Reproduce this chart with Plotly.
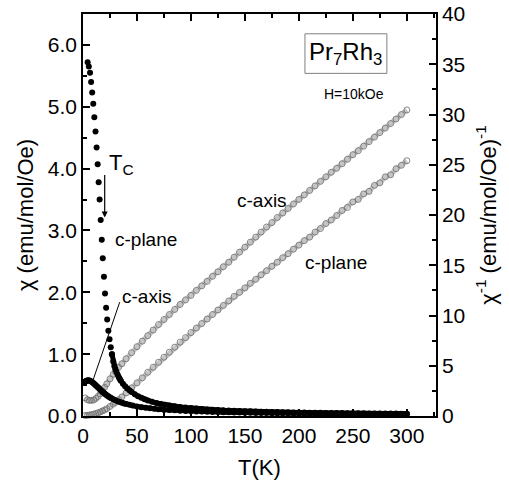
import plotly.graph_objects as go

FONT = "Liberation Sans, Arial, sans-serif"

# chi(T), field in the c-plane (filled circles, left axis)
t_chi_plane = [4.3, 5.4, 6.5, 7.5, 8.5, 9.5, 10.5, 11.6, 12.6, 13.6, 14.5, 15.4, 16.4, 17.4,
               18.3, 19.4, 20.4, 21.4, 22.4, 23.5, 24.6, 25.7, 26.8,
               28, 29, 30, 31, 32, 33, 34, 35, 37, 39, 41, 43, 45, 48, 51, 54, 57, 60,
               64, 68, 72, 76, 80, 85, 90, 95] + list(range(100, 301, 5))
chi_plane = [5.72, 5.65, 5.55, 5.40, 5.23, 5.05, 4.83, 4.60, 4.34, 4.07, 3.78, 3.50, 3.17, 2.85,
             2.55, 2.25, 1.98, 1.75, 1.56, 1.38, 1.24, 1.11, 1.00,
             0.88, 0.81, 0.76, 0.71, 0.67, 0.63, 0.60, 0.57, 0.52, 0.48, 0.445, 0.415, 0.39,
             0.35, 0.32, 0.295, 0.27, 0.25, 0.23, 0.21, 0.195, 0.18, 0.17, 0.158, 0.147, 0.137,
             0.128, 0.12, 0.113, 0.107, 0.101, 0.096, 0.092, 0.088, 0.084, 0.081,
             0.078, 0.075, 0.072, 0.07, 0.068, 0.066, 0.064, 0.062, 0.06, 0.058,
             0.057, 0.055, 0.054, 0.052, 0.051, 0.05, 0.049, 0.048, 0.047, 0.046,
             0.045, 0.044, 0.043, 0.042, 0.041, 0.041, 0.040, 0.039, 0.039, 0.038, 0.038]
N_SPARSE = 23  # the first points below ~27 K are resolved as separate dots

# chi(T), field along the c-axis (filled circles, left axis)
t_chi_axis = [1.8, 2.5, 3, 3.5, 4, 5, 6, 7, 8, 9, 10, 11, 12, 13, 14, 15, 16, 17, 18, 19, 20,
              21, 22, 23, 24, 25, 26, 28, 30, 32, 34, 36, 38, 40, 43, 46, 50, 54, 58, 62, 66,
              70, 75, 80, 85, 90, 95] + list(range(100, 301, 5))
chi_axis = [0.55, 0.56, 0.565, 0.57, 0.575, 0.578, 0.575, 0.565, 0.553, 0.54, 0.525, 0.51,
            0.495, 0.478, 0.46, 0.443, 0.425, 0.408, 0.392, 0.377, 0.362, 0.348, 0.335, 0.323,
            0.311, 0.3, 0.29, 0.272, 0.255, 0.24, 0.227, 0.215, 0.204, 0.194, 0.18, 0.168,
            0.155, 0.143, 0.133, 0.124, 0.117, 0.11, 0.103, 0.097, 0.091, 0.086, 0.082,
            0.078, 0.074, 0.071, 0.068, 0.065, 0.063, 0.061, 0.059, 0.057, 0.055,
            0.053, 0.052, 0.05, 0.049, 0.048, 0.046, 0.045, 0.044, 0.043, 0.042,
            0.041, 0.041, 0.04, 0.039, 0.038, 0.038, 0.037, 0.036, 0.036, 0.035,
            0.035, 0.034, 0.034, 0.034, 0.033, 0.033, 0.032, 0.032, 0.032, 0.031, 0.031]

# inverse susceptibility (open circles, right axis)
t_inv = [2, 4, 6, 8, 10, 12, 14, 16, 18, 20, 22, 25, 28, 30, 33, 36, 40] + list(range(45, 301, 5))
inv_axis = [1.8, 1.62, 1.55, 1.55, 1.6, 1.75, 1.95, 2.2, 2.5, 2.85, 3.2, 3.7, 4.15, 4.45, 4.85,
            5.2, 5.7,
            6.3, 6.9, 7.45, 8.0, 8.55, 9.1, 9.6, 10.1, 10.6, 11.1,
            11.55, 12.0, 12.5, 12.95, 13.4, 13.9, 14.35, 14.85, 15.3, 15.8,
            16.3, 16.8, 17.3, 17.8, 18.3, 18.8, 19.25, 19.75, 20.2, 20.65,
            21.1, 21.55, 22.0, 22.45, 22.9, 23.35, 23.8, 24.25, 24.65, 25.1,
            25.55, 26.0, 26.4, 26.85, 27.3, 27.75, 28.2, 28.65, 29.1, 29.55,
            30.0, 30.45]
inv_plane = [0.05, 0.07, 0.1, 0.14, 0.19, 0.25, 0.32, 0.4, 0.5, 0.6, 0.72, 0.95, 1.18, 1.35,
             1.62, 1.9, 2.3,
             2.8, 3.3, 3.8, 4.35, 4.85, 5.35, 5.85, 6.35, 6.85, 7.35,
             7.8, 8.3, 8.75, 9.2, 9.65, 10.1, 10.55, 11.0, 11.45, 11.9,
             12.3, 12.75, 13.2, 13.6, 14.05, 14.45, 14.9, 15.3, 15.75, 16.15,
             16.6, 17.0, 17.45, 17.8, 18.3, 18.65, 19.15, 19.5, 19.95, 20.45,
             20.75, 21.3, 21.55, 22.1, 22.35, 22.95, 23.2, 23.8, 24.0, 24.6,
             24.95, 25.4]

fig = go.Figure()

# inverse curves on the right-hand axis: a grey rope of open circles
for t, v in ((t_inv, inv_axis), (t_inv, inv_plane)):
    fig.add_trace(go.Scatter(
        x=t, y=v, yaxis="y2", mode="lines+markers", cliponaxis=False,
        line=dict(color="#c4c4c4", width=5),
        marker=dict(symbol="circle-open", size=6, color="#6a6a6a", line=dict(width=0.8)),
        showlegend=False, hoverinfo="skip"))

dot = dict(symbol="circle", size=6, color="black", line=dict(width=0))

# susceptibility along the c-axis: densely sampled, reads as a thick black curve
fig.add_trace(go.Scatter(
    x=t_chi_axis, y=chi_axis, yaxis="y", mode="lines+markers", cliponaxis=False,
    line=dict(color="black", width=5), marker=dot, showlegend=False, hoverinfo="skip"))

# susceptibility in the c-plane: separate dots near Tc, dense curve above it
fig.add_trace(go.Scatter(
    x=t_chi_plane[:N_SPARSE], y=chi_plane[:N_SPARSE], yaxis="y", mode="markers",
    cliponaxis=False, marker=dot, showlegend=False, hoverinfo="skip"))
fig.add_trace(go.Scatter(
    x=t_chi_plane[N_SPARSE - 1:], y=chi_plane[N_SPARSE - 1:], yaxis="y", mode="lines+markers",
    cliponaxis=False, line=dict(color="black", width=5), marker=dot,
    showlegend=False, hoverinfo="skip"))

axis_common = dict(
    showgrid=False, zeroline=False, showline=True, linecolor="black", linewidth=1.5,
    ticks="inside", ticklen=7, tickwidth=1.5, tickcolor="black", automargin=False,
    tickfont=dict(family=FONT, size=21, color="black"),
)

fig.update_layout(
    width=509, height=485,
    margin=dict(l=83, r=73, t=14, b=69),
    paper_bgcolor="white", plot_bgcolor="white",
    font=dict(family=FONT, color="black"),
    xaxis=dict(
        **axis_common, range=[0, 327], tick0=0, dtick=50, mirror="ticks",
        minor=dict(dtick=25, ticks="inside", ticklen=4, tickwidth=1.5, tickcolor="black"),
        title=dict(text="T(K)", font=dict(family=FONT, size=22), standoff=14),
    ),
    yaxis2=dict(
        **axis_common, range=[0, 40], tick0=0, dtick=5, side="right", anchor="x",
        minor=dict(dtick=2.5, ticks="inside", ticklen=4, tickwidth=1.5, tickcolor="black"),
        title=dict(text="χ<sup>-1</sup> (emu/mol/Oe)<sup>-1</sup>",
                   font=dict(family=FONT, size=22), standoff=16),
    ),
    yaxis=dict(
        **axis_common, range=[0, 6.5], tick0=0, dtick=1, tickformat=".1f",
        overlaying="y2", side="left", anchor="x",
        minor=dict(dtick=0.5, ticks="inside", ticklen=4, tickwidth=1.5, tickcolor="black"),
        title=dict(text="χ (emu/mol/Oe)", font=dict(family=FONT, size=22), standoff=8),
    ),
)

label_font = dict(family=FONT, size=19, color="black")
annotations = [
    dict(x=22.5, y=4.08, text="T<sub>C</sub>", font=dict(family=FONT, size=22, color="black"),
         xanchor="left", yanchor="middle", showarrow=False),
    dict(x=20.1, y=3.21, ax=20.1, ay=3.92, axref="x", ayref="y",
         text="", showarrow=True, arrowhead=2, arrowsize=1, arrowwidth=1.2, arrowcolor="black",
         standoff=0, startstandoff=0),
    dict(x=27.8, y=2.86, text="c-plane", font=label_font, xanchor="left", yanchor="middle",
         showarrow=False),
    dict(x=34.3, y=1.93, text="c-axis", font=label_font, xanchor="left", yanchor="middle",
         showarrow=False),
    dict(x=140.7, y=3.49, text="c-axis", font=label_font, xanchor="left", yanchor="middle",
         showarrow=False),
    dict(x=203.7, y=2.49, text="c-plane", font=label_font, xanchor="left", yanchor="middle",
         showarrow=False),
    dict(x=243.5, y=5.86, text="Pr<sub>7</sub>Rh<sub>3</sub>",
         font=dict(family=FONT, size=24, color="black"), xanchor="center", yanchor="middle",
         showarrow=False),
    dict(x=251, y=5.21, text="H=10kOe", font=dict(family=FONT, size=14, color="black"),
         xanchor="center", yanchor="middle", showarrow=False),
]
for a in annotations:
    a.setdefault("xref", "x")
    a.setdefault("yref", "y")
fig.update_layout(annotations=annotations)

fig.add_shape(type="rect", xref="x", yref="y", x0=205.6, x1=281.5, y0=5.54, y1=6.18,
              line=dict(color="#808080", width=1), fillcolor="rgba(0,0,0,0)")
# leader from the c-axis label down to its susceptibility curve
fig.add_shape(type="line", xref="x", yref="y", x0=34.0, y0=1.84, x1=9.3, y1=0.58,
              line=dict(color="black", width=1))

fig.write_html("out.html")
